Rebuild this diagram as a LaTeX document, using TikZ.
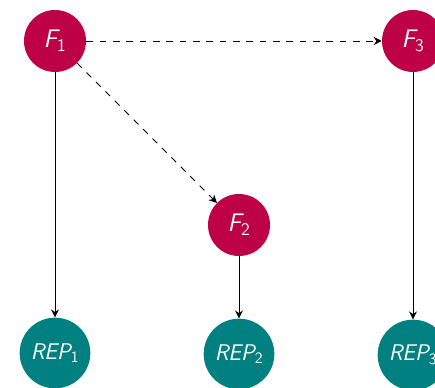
\documentclass[tikz,border=0pt]{standalone}
\usetikzlibrary{arrows.meta}
\definecolor{fnode}{RGB}{190,0,70}
\definecolor{repnode}{RGB}{0,128,128}
\newcommand{\lbl}[2]{{\sffamily\itshape #1}\textsubscript{\sffamily\upshape #2}}
\tikzset{
  fbox/.style={circle, fill=fnode, text=white, minimum size=46.5pt, inner sep=0pt,
    font=\fontsize{19}{21}\selectfont},
  repbox/.style={circle, fill=repnode, text=white, minimum size=53pt, inner sep=0pt,
    font=\fontsize{17}{19}\selectfont},
  link/.style={-{Stealth[length=6pt,width=6pt,inset=2pt]}, line width=0.7pt, black},
  dlink/.style={link, dash pattern=on 5pt off 5pt}
}
\begin{document}
\begin{tikzpicture}[x=0.75pt, y=-0.75pt]
  \useasboundingbox (0,0) rectangle (435,388);
  \node[fbox] (f1) at (55,41) {\lbl{F}{1}};
  \node[fbox] (f3) at (413,41) {\lbl{F}{3}};
  \node[fbox] (f2) at (239,225) {\lbl{F}{2}};
  \node[repbox] (r1) at (55,353) {\lbl{REP}{1}};
  \node[repbox] (r2) at (239,354) {\lbl{REP}{2}};
  \node[repbox] (r3) at (413,355) {\lbl{REP}{3}};
  \draw[dlink] (f1) -- (f3);
  \draw[dlink] (f1) -- (f2);
  \draw[link] (f1) -- (r1);
  \draw[link] (f2) -- (r2);
  \draw[link] (f3) -- (r3);
\end{tikzpicture}
\end{document}
